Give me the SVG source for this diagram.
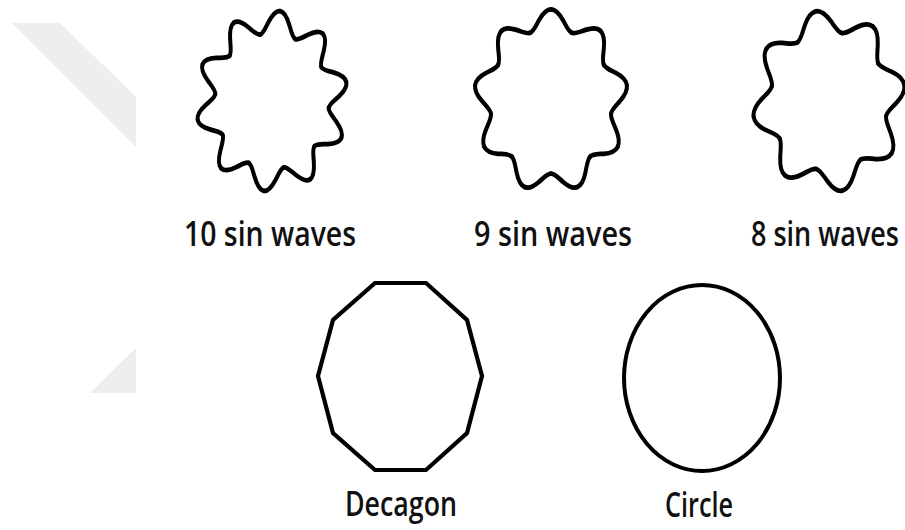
<svg xmlns="http://www.w3.org/2000/svg" xmlns:xlink="http://www.w3.org/1999/xlink" width="905" height="530" viewBox="0 0 905 530">
  <style>
    .wm { fill: #eeeeee; }
    .shape { fill: none; stroke: #000; stroke-width: 4; stroke-linecap: round; stroke-linejoin: round; }
    .poly { fill: none; stroke: #000; stroke-width: 4.2; stroke-linejoin: miter; }
    .lbl { font-family: "Open Sans", "Liberation Sans", sans-serif; font-size: 28px; font-weight: 600; fill: #111; }
  </style>
  <defs>
    <path id="h10" d="M0,-76 C3.98,-76 7.74,-71.14 10.40,-65.68 C13.06,-60.22 14.78,-55.13 17.61,-54.21"/>
    <g id="p10"><use href="#h10"/><use href="#h10" transform="scale(-1,1)"/></g>
    <path id="h9" d="M0,-77 C4.48,-77 8.76,-72.77 11.98,-67.95 C15.21,-63.13 17.53,-58.54 20.86,-57.32"/>
    <g id="p9"><use href="#h9"/><use href="#h9" transform="scale(-1,1)"/></g>
    <path id="h8" d="M0,-76.5 C5.01,-76.5 9.76,-71.69 13.17,-66.20 C16.58,-60.72 18.85,-55.51 22.39,-54.05"/>
    <g id="p8"><use href="#h8"/><use href="#h8" transform="scale(-1,1)"/></g>
  </defs>
  <rect width="905" height="530" fill="#fff"/>
  <g id="watermark">
    <polygon class="wm" points="12,23 60,23 136,97 136,147"/>
    <polygon class="wm" points="136,348 136,393 90,393"/>
  </g>
  <g id="wave10">
    <g class="shape" transform="translate(272,101) scale(1,1.19) rotate(6)">
      <use href="#p10"/><use href="#p10" transform="rotate(36)"/><use href="#p10" transform="rotate(72)"/>
      <use href="#p10" transform="rotate(108)"/><use href="#p10" transform="rotate(144)"/><use href="#p10" transform="rotate(180)"/>
      <use href="#p10" transform="rotate(216)"/><use href="#p10" transform="rotate(252)"/><use href="#p10" transform="rotate(288)"/>
      <use href="#p10" transform="rotate(324)"/>
    </g>
    <text class="lbl" transform="translate(184,246) scale(1,1.22)" textLength="172" lengthAdjust="spacingAndGlyphs">10 sin waves</text>
  </g>
  <g id="wave9">
    <g class="shape" transform="translate(551,101) scale(1,1.19)">
      <use href="#p9"/><use href="#p9" transform="rotate(40)"/><use href="#p9" transform="rotate(80)"/>
      <use href="#p9" transform="rotate(120)"/><use href="#p9" transform="rotate(160)"/><use href="#p9" transform="rotate(200)"/>
      <use href="#p9" transform="rotate(240)"/><use href="#p9" transform="rotate(280)"/><use href="#p9" transform="rotate(320)"/>
    </g>
    <text class="lbl" transform="translate(474,246) scale(1,1.22)" textLength="158" lengthAdjust="spacingAndGlyphs">9 sin waves</text>
  </g>
  <g id="wave8">
    <g class="shape" transform="translate(829,101) scale(1,1.19) rotate(-10)">
      <use href="#p8"/><use href="#p8" transform="rotate(45)"/><use href="#p8" transform="rotate(90)"/>
      <use href="#p8" transform="rotate(135)"/><use href="#p8" transform="rotate(180)"/><use href="#p8" transform="rotate(225)"/>
      <use href="#p8" transform="rotate(270)"/><use href="#p8" transform="rotate(315)"/>
    </g>
    <text class="lbl" transform="translate(751,246) scale(1,1.22)" textLength="148" lengthAdjust="spacingAndGlyphs">8 sin waves</text>
  </g>
  <g id="decagon">
    <polygon class="poly" points="375,283 426,283 467,320 482,376 467,433 426,470 375,470 333,433 318,376 333,320"/>
    <text class="lbl" transform="translate(345,516) scale(1,1.22)" textLength="112" lengthAdjust="spacingAndGlyphs">Decagon</text>
  </g>
  <g id="circle">
    <ellipse class="shape" cx="702" cy="378" rx="78" ry="93"/>
    <text class="lbl" transform="translate(665,517) scale(1,1.22)" textLength="68" lengthAdjust="spacingAndGlyphs">Circle</text>
  </g>
</svg>
